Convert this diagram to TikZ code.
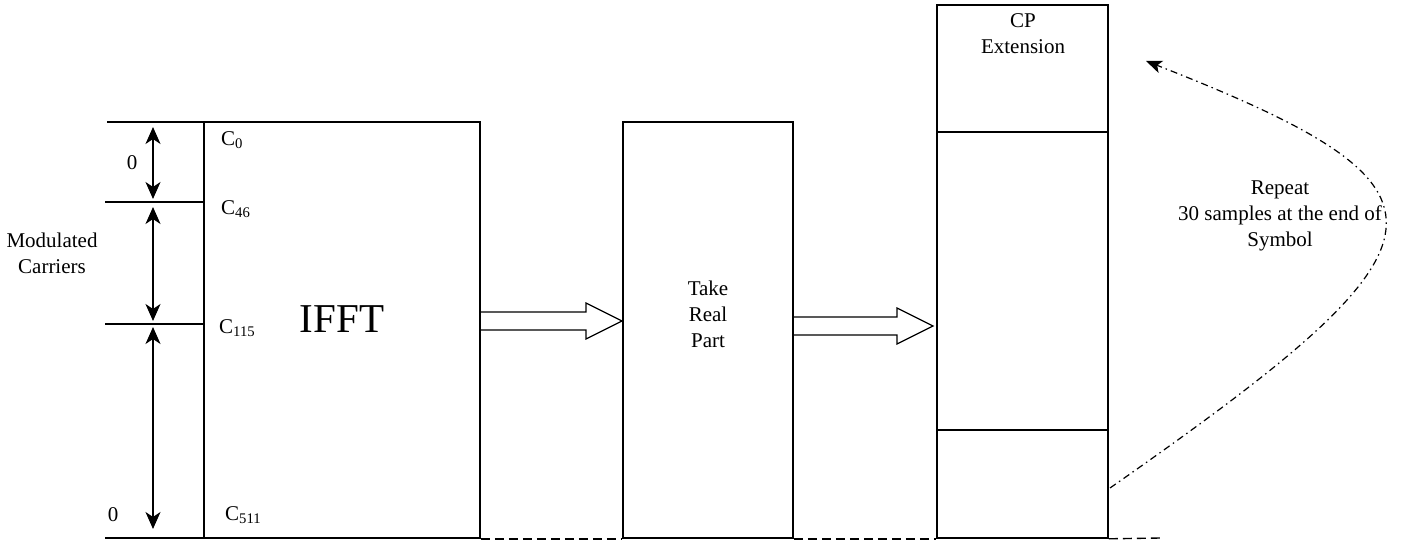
\documentclass[tikz,border=0pt]{standalone}
\usepackage{fontspec}
\setmainfont{Liberation Serif}
\usepackage{tikz}
\usetikzlibrary{arrows.meta}

\begin{document}
\begin{tikzpicture}[x=1pt, y=-1pt, font=\fontsize{21}{26}\selectfont]
            \tikzstyle{blk} = [draw=black, line width=1.6pt, inner sep=0pt]
            \tikzstyle{tick} = [line width=1.4pt]
            \tikzstyle{span} = [line width=1.4pt, {Stealth[length=17pt, width=15pt, inset=5pt]}-{Stealth[length=17pt, width=15pt, inset=5pt]}]
            \tikzstyle{hollow} = [line width=1.2pt, line join=miter]
            \tikzstyle{baseln} = [line width=1.4pt, dash pattern=on 9pt off 5pt]
            \tikzstyle{txt} = [inner sep=0pt, align=center]
            \useasboundingbox (0,0) rectangle (1414,540);

            \node [blk, minimum width=276pt, minimum height=416pt] (ifft) at (342,330) {};
            \node [blk, minimum width=170pt, minimum height=416pt] (take) at (708,330) {};
            \node [blk, minimum width=171pt, minimum height=533pt] (cp) at (1022.5,271.5) {};

            \node [txt, font=\fontsize{41}{45}\selectfont] (ifftlbl) at (342,319) {IFFT};
            \node [txt] (takelbl) at (708,314) {Take\\Real\\Part};
            \node [txt] (cplbl) at (1023,34) {CP\\Extension};
            \node [txt] (replbl) at (1280,216) {Repeat\\30 samples at the end of\\Symbol};
            \node [txt] (modlbl) at (52,253) {Modulated\\Carriers};
            \node [txt] (zero0) at (132,163) {0};
            \node [txt] (zero1) at (113,515) {0};
            \node [txt, anchor=west] (c0) at (221,140) {C\textsubscript{0}};
            \node [txt, anchor=west] (c46) at (221,209) {C\textsubscript{46}};
            \node [txt, anchor=west] (c115) at (219,328) {C\textsubscript{115}};
            \node [txt, anchor=west] (c511) at (225,515) {C\textsubscript{511}};

            % carrier marks on the left
            \coordinate (m0) at (107,122);
            \coordinate (m46) at (105,202);
            \coordinate (m115) at (105,324);
            \coordinate (m511) at (105,538);
            \foreach \m in {m0, m46, m115, m511}
                \draw [tick] (\m) -- (\m -| ifft.west);
            \draw [span] (153,127) -- (153,199);
            \draw [span] (153,207) -- (153,321);
            \draw [span] (153,327) -- (153,529);

            % CP partitions
            \coordinate (p1) at (cp.west |- 0,132);
            \coordinate (p2) at (cp.west |- 0,430);
            \draw [tick] (p1) -- (p1 -| cp.east);
            \draw [tick] (p2) -- (p2 -| cp.east);

            % hollow block arrows
            \foreach \xa/\xb/\yc in {480/622/321, 794/933/326}
                \draw [hollow] (\xa,{\yc-9}) -- ({\xb-36},{\yc-9}) -- ({\xb-36},{\yc-18})
                    -- (\xb,\yc) -- ({\xb-36},{\yc+18}) -- ({\xb-36},{\yc+9}) -- (\xa,{\yc+9});

            % dashed base line
            \coordinate (bend) at (1160,538);
            \draw [baseln] (ifft.south east) -- (take.south west);
            \draw [baseln] (take.south east) -- (cp.south west);
            \draw [baseln] (cp.south east) -- (bend);

            % repeat arrow
            \coordinate (rs) at (1110,488);
            \coordinate (rt) at (1146,61);
            \draw [line width=1.2pt, dash pattern=on 7pt off 4pt on 1.5pt off 4pt, -{Stealth[length=16pt, width=13pt, inset=4pt]}]
                (rs) .. controls (1465,240) and (1475,190) .. (rt);
        \end{tikzpicture}
\end{document}
